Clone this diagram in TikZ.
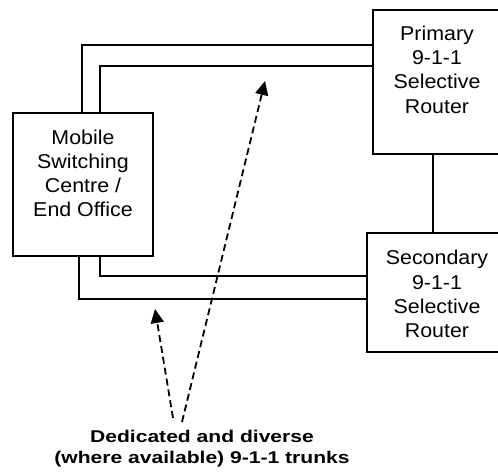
\documentclass[tikz,border=0pt]{standalone}
\usepackage{fontspec}
\newfontfamily\boxfont[FakeStretch=1.07]{Liberation Sans}
\newfontfamily\labfont[FakeStretch=1.24]{Liberation Sans}
\usetikzlibrary{arrows.meta}
\begin{document}
\begin{tikzpicture}[x=1pt,y=-1pt,
  boxnode/.style={draw,line width=2pt,rectangle,inner sep=0pt},
  boxtext/.style={align=center,inner sep=0pt,anchor=base,font=\boxfont\fontsize{20}{24.2}\selectfont},
  trunk/.style={line width=2pt},
  callout/.style={line width=1.8pt,dash pattern=on 7pt off 4pt,-{Triangle[length=14pt,width=13pt]}}]
\useasboundingbox (0,0) rectangle (498,472);
\clip (0,0) rectangle (498,472);
\fill[white] (0,0) rectangle (498,472);
% boxes
\node[boxnode,minimum width=140pt,minimum height=143pt] (msc) at (83,184.5) {};
\node[boxnode,minimum width=130pt,minimum height=144pt] (pri) at (438,82) {};
\node[boxnode,minimum width=142pt,minimum height=119pt] (sec) at (438,292.5) {};
% texts (anchor base = last line)
\node[boxtext] (msct) at (83,216.7) {Mobile\\Switching\\Centre /\\End Office};
\node[boxtext] (prit) at (437,113) {Primary\\9-1-1\\Selective\\Router};
\node[boxtext] (sect) at (437,337.5) {Secondary\\9-1-1\\Selective\\Router};
\node[align=center,inner sep=0pt,anchor=base,font=\labfont\bfseries\fontsize{17}{21}\selectfont] (lab) at (202,463) {Dedicated and diverse\\(where available) 9-1-1 trunks};
% link between routers
\draw[trunk] (pri.south -| 433,0) -- (sec.north -| 433,0);
% trunks
\draw[trunk] (msc.north -| 82,0) |- (pri.west |- 0,45);
\draw[trunk] (msc.north -| 100,0) |- (pri.west |- 0,66);
\draw[trunk] (msc.south -| 100,0) |- (sec.west |- 0,276);
\draw[trunk] (msc.south -| 79,0) |- (sec.west |- 0,299);
% callouts
\coordinate (t1) at (182,422);
\coordinate (h1) at (265,81);
\coordinate (t2) at (173,418);
\coordinate (h2) at (155,309);
\draw[callout] (t1) -- (h1);
\draw[callout] (t2) -- (h2);
\end{tikzpicture}
\end{document}
